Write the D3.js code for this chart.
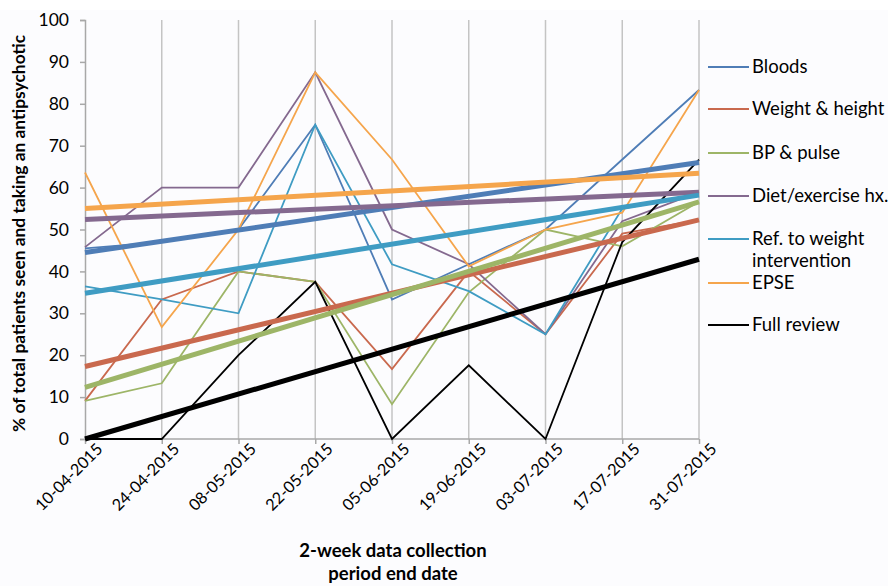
<!DOCTYPE html>
<html>
<head>
<meta charset="utf-8">
<script src="https://cdn.jsdelivr.net/npm/d3@7"></script>
<style>
  body { margin: 0; background: #fff; }
  text { font-family: Lato, "Open Sans", sans-serif; fill: #000; }
</style>
</head>
<body>
<div id="chart"></div>
<script>
// Collection period end dates
const dates = ["10-04-2015", "24-04-2015", "08-05-2015", "22-05-2015", "05-06-2015",
  "19-06-2015", "03-07-2015", "17-07-2015", "31-07-2015"];

const seriesNames = ["Bloods", "Weight & height", "BP & pulse", "Diet/exercise hx.",
  "Ref. to weight intervention", "EPSE", "Full review"];
const seriesColors = ["#4f7db6", "#c9694e", "#9db567", "#84698f", "#3f9cc3", "#f5a54c", "#000000"];

// % of patients per period
const bloods = [45.5, 47, 50, 75, 33.3, 41.7, 50, 66.7, 83.3];
const weightHeight = [9.1, 33.3, 40, 37.5, 16.7, 40, 25, 49, 52.3];
const bpPulse = [9.1, 13.3, 40, 37.5, 8.3, 35, 50, 46, 56.6];
const dietExercise = [45.8, 60, 60, 87.5, 50, 41.7, 25, 52, 58.9];
const refWeight = [36.4, 33.3, 30, 75, 41.7, 35.3, 25, 55, 58.2];
const epse = [63.6, 26.7, 50, 87.5, 66.7, 41.2, 50, 54, 83.3];
const fullReview = [0, 0, 20, 37.5, 0, 17.6, 0, 47, 66.7];

// linear trend lines: value at first and last date
const trendStart = [44.5, 17.3, 12.3, 52.4, 34.8, 55.0, 0];
const trendEnd = [66.0, 52.3, 56.6, 58.9, 58.2, 63.4, 42.9];

const yTicks = [0, 10, 20, 30, 40, 50, 60, 70, 80, 90, 100];

const allSeries = [bloods, weightHeight, bpPulse, dietExercise, refWeight, epse, fullReview];

const width = 888;
const height = 586;
const margin = { top: 20, right: 189, bottom: 147, left: 85 };

const svg = d3.select("#chart")
  .append("svg")
  .attr("width", width)
  .attr("height", height);

const x = d3.scalePoint()
  .domain(dates)
  .range([margin.left, width - margin.right]);

const y = d3.scaleLinear()
  .domain([0, 100])
  .range([height - margin.bottom, margin.top]);

// light plot background
svg.append("rect")
  .attr("x", 0)
  .attr("y", 10)
  .attr("width", width)
  .attr("height", height - 10)
  .attr("fill", "#fcfcfe");

// vertical gridlines at each date
svg.append("g")
  .selectAll("line")
  .data(dates.slice(1))
  .enter()
  .append("line")
  .attr("x1", d => x(d))
  .attr("x2", d => x(d))
  .attr("y1", y(100))
  .attr("y2", y(0))
  .attr("stroke", "#c4c4c4")
  .attr("stroke-width", 1.5);

// y axis
const yAxis = svg.append("g")
  .attr("transform", `translate(${margin.left}, 0)`)
  .call(d3.axisLeft(y).tickValues(yTicks).tickSize(5).tickPadding(11));
yAxis.selectAll("line, path").attr("stroke", "#a8a8a8").attr("stroke-width", 1.5);
yAxis.selectAll("text").style("font-size", "17.5px");

// x axis
const xAxis = svg.append("g")
  .attr("transform", `translate(0, ${y(0)})`)
  .call(d3.axisBottom(x).tickSize(5).tickPadding(6));
xAxis.select("path").attr("d", `M${x(dates[0])},0H${x(dates[dates.length - 1])}`);
xAxis.selectAll("line, path").attr("stroke", "#a8a8a8").attr("stroke-width", 1.5);
xAxis.selectAll("text")
  .style("font-size", "16.2px")
  .style("text-anchor", "end")
  .attr("dx", "0.3em")
  .attr("dy", "0.6em")
  .attr("transform", "rotate(-45)");

// data lines
const line = d3.line()
  .x((d, i) => x(dates[i]))
  .y(d => y(d));

svg.append("g")
  .selectAll("path")
  .data(allSeries)
  .enter()
  .append("path")
  .attr("d", d => line(d))
  .attr("fill", "none")
  .attr("stroke", (d, i) => seriesColors[i])
  .attr("stroke-width", 1.8)
  .attr("stroke-linejoin", "miter");

// trend lines
svg.append("g")
  .selectAll("line")
  .data(seriesNames)
  .enter()
  .append("line")
  .attr("x1", x(dates[0]))
  .attr("x2", x(dates[dates.length - 1]))
  .attr("y1", (d, i) => y(trendStart[i]))
  .attr("y2", (d, i) => y(trendEnd[i]))
  .attr("stroke", (d, i) => seriesColors[i])
  .attr("stroke-width", 5);

// legend
const legendY = [67, 109, 153, 196, 239, 283, 325];
const legend = svg.append("g");
seriesNames.forEach((name, i) => {
  legend.append("line")
    .attr("x1", 708)
    .attr("x2", 749)
    .attr("y1", legendY[i])
    .attr("y2", legendY[i])
    .attr("stroke", seriesColors[i])
    .attr("stroke-width", 2);
  const t = legend.append("text")
    .attr("x", 752)
    .attr("y", legendY[i])
    .attr("dy", "0.35em")
    .style("font-size", "18.5px");
  if (name === "Ref. to weight intervention") {
    t.append("tspan").attr("x", 752).text("Ref. to weight");
    t.append("tspan").attr("x", 752).attr("dy", "22px").text("intervention");
  } else {
    t.text(name);
  }
});

// axis titles
svg.append("text")
  .attr("transform", `translate(25, ${(y(0) + y(100)) / 2 + 4}) rotate(-90)`)
  .style("text-anchor", "middle")
  .style("font-size", "17.4px")
  .style("font-weight", "bold")
  .text("% of total patients seen and taking an antipsychotic");

svg.append("text")
  .attr("x", 393)
  .attr("y", 557)
  .style("text-anchor", "middle")
  .style("font-size", "18.5px")
  .style("font-weight", "bold")
  .text("2-week data collection");

svg.append("text")
  .attr("x", 393)
  .attr("y", 580)
  .style("text-anchor", "middle")
  .style("font-size", "18.5px")
  .style("font-weight", "bold")
  .text("period end date");
</script>
</body>
</html>
